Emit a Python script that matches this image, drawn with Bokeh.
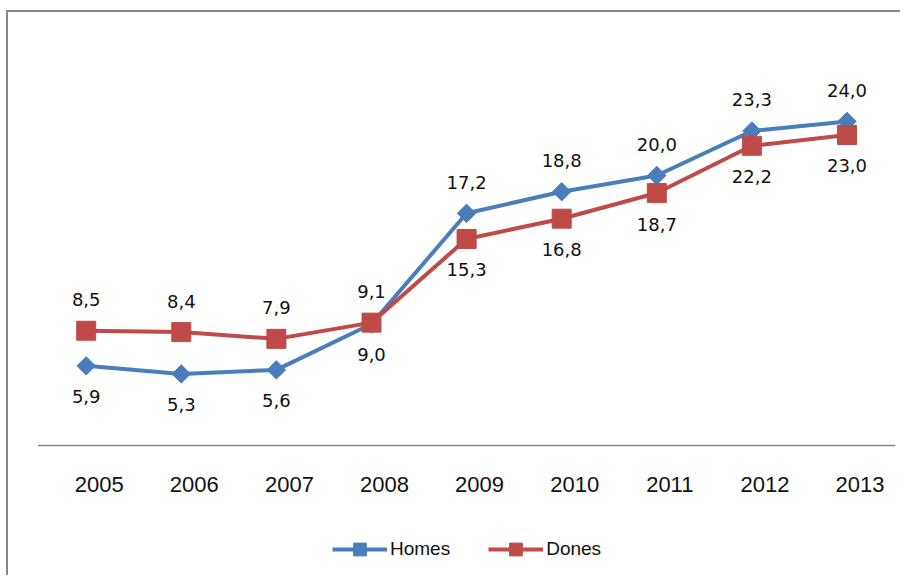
from bokeh.plotting import figure
from bokeh.models import (ColumnDataSource, Legend, LegendItem, Range1d,
                          LinearAxis, FixedTicker)
from bokeh.core.properties import value
from bokeh.embed import file_html
from bokeh.resources import INLINE
import math

years = [2005, 2006, 2007, 2008, 2009, 2010, 2011, 2012, 2013]
homes = [5.9, 5.3, 5.6, 9.0, 17.2, 18.8, 20.0, 23.3, 24.0]
dones = [8.5, 8.4, 7.9, 9.1, 15.3, 16.8, 18.7, 22.2, 23.0]
homes_label_pos = ["below", "below", "below", "below", "above", "above", "above", "above", "above"]
dones_label_pos = ["above", "above", "above", "above", "below", "below", "below", "below", "below"]

BLUE = "#4A7EBB"
RED = "#BE4B48"
LABEL_OFF = 31


def fmt(v):
    return ("%.1f" % v).replace(".", ",")


def offsets(pos):
    return [-LABEL_OFF if p == "above" else LABEL_OFF for p in pos]


src_h = ColumnDataSource(dict(x=years, y=homes, t=[fmt(v) for v in homes],
                              off=offsets(homes_label_pos)))
src_d = ColumnDataSource(dict(x=years, y=dones, t=[fmt(v) for v in dones],
                              off=offsets(dones_label_pos)))

x0, x1 = 2004.488, 2013.51
# the frame reaches down to the legend; the category axis sits at y = 0
p = figure(x_range=Range1d(x0, x1), y_range=Range1d(-9.63, 30),
           frame_width=858, frame_height=535,
           min_border_left=29, min_border_right=5, min_border_top=28,
           min_border_bottom=0,
           x_axis_location=None, y_axis_location=None,
           output_backend="svg", toolbar_location=None)
p.outline_line_color = None
p.xgrid.visible = False
p.ygrid.visible = False
p.background_fill_color = "white"
p.border_fill_color = "white"

# tick labels sit slightly to the right of the categories in the original
shift = 13 / (858 / (x1 - x0))
p.extra_x_ranges = {"lab": Range1d(x0 - shift, x1 - shift)}
ax = LinearAxis(x_range_name="lab", ticker=FixedTicker(ticks=years),
                fixed_location=0)
ax.axis_line_color = "#868686"
ax.axis_line_width = 1.5
ax.major_tick_out = 0
ax.major_tick_in = 0
ax.minor_tick_out = 0
ax.minor_tick_in = 0
ax.major_label_standoff = 32
ax.major_label_text_font = "Liberation Sans"
ax.major_label_text_font_size = "22px"
ax.major_label_text_color = "#111111"
p.add_layout(ax, "below")

lh = p.line("x", "y", source=src_h, line_color=BLUE, line_width=4)
sh = p.scatter("x", "y", source=src_h, marker="square", angle=math.pi / 4,
               size=13, fill_color=BLUE, line_color=BLUE)
ld = p.line("x", "y", source=src_d, line_color=RED, line_width=4)
sd = p.scatter("x", "y", source=src_d, marker="square", size=19,
               fill_color=RED, line_color=RED)

for s in (src_h, src_d):
    p.text("x", "y", text="t", source=s, y_offset="off",
           text_align="center", text_baseline="middle",
           text_font=value("DejaVu Sans"), text_font_size="18px",
           text_color="#111111")

legend = Legend(items=[LegendItem(label="Homes", renderers=[lh, sh]),
                       LegendItem(label="Dones", renderers=[ld, sd])],
                orientation="horizontal", location=(295, 10),
                border_line_color=None, background_fill_alpha=0,
                label_text_font="Liberation Sans", label_text_font_size="19px",
                label_text_color="#111111",
                glyph_width=55, glyph_height=32, spacing=38, label_standoff=3,
                padding=0, margin=0)
p.add_layout(legend, "center")

p.styles = {"border-top": "2px solid #878787", "border-left": "2px solid #878787",
            "margin-left": "6px", "margin-top": "10px"}

open("out.html", "w").write(file_html(p, INLINE))
